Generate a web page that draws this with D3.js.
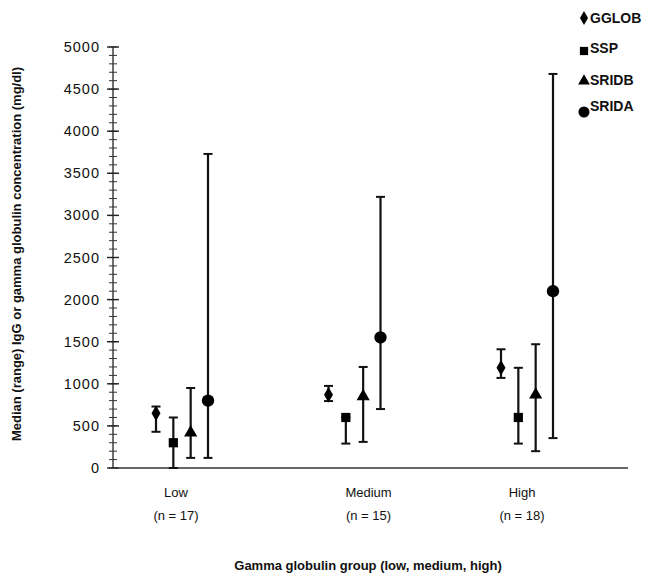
<!DOCTYPE html>
<html><head><meta charset="utf-8">
<script src="https://cdn.jsdelivr.net/npm/d3@7"></script>
<style>body{margin:0;background:#fff}svg{display:block}</style>
</head><body>
<svg id="c" width="648" height="579"></svg>
<script>
const groups = ["Low", "Medium", "High"];
const groupN = ["(n = 17)", "(n = 15)", "(n = 18)"];
const seriesNames = ["GGLOB", "SSP", "SRIDB", "SRIDA"];
const medians = [[650, 870, 1190],[300, 600, 600],[420, 850, 870],[800, 1550, 2100]];
const lows    = [[430, 795, 1070],[0, 290, 290],[120, 310, 200],[120, 700, 355]];
const highs   = [[730, 975, 1410],[600, 600, 1190],[950, 1200, 1470],[3730, 3220, 4680]];
const yTicks = [0,500,1000,1500,2000,2500,3000,3500,4000,4500,5000];

const svg = d3.select("#c");
const y = d3.scaleLinear().domain([0,5000]).range([468,47]);
const xg = d3.scalePoint().domain(groups).range([182, 527]);
const off = d3.scalePoint().domain(seriesNames).range([-26, 26]);
const labelShift = [-6, 14, -5];
const symbols = [d3.symbolDiamond, d3.symbolSquare, d3.symbolTriangle, d3.symbolCircle];
const symSizes = [70, 85, 75, 120];
const font = "Liberation Sans, Arial, sans-serif";

// y axis
const ax = svg.append("g").attr("transform","translate(113,0)");
ax.append("line").attr("y1",y(0)).attr("y2",y(5000)).attr("stroke","#222").attr("stroke-width",1.3);
ax.selectAll(".mn").data(d3.range(0,5001,100)).join("line")
  .attr("x1",-4).attr("x2",4).attr("y1",d=>y(d)).attr("y2",d=>y(d)).attr("stroke","#333").attr("stroke-width",1);
ax.selectAll(".mj").data(yTicks).join("line")
  .attr("x1",-6).attr("x2",6).attr("y1",d=>y(d)).attr("y2",d=>y(d)).attr("stroke","#222").attr("stroke-width",1.4);
ax.selectAll("text").data(yTicks).join("text")
  .attr("x",-13).attr("y",d=>y(d)+5).attr("text-anchor","end").attr("letter-spacing",1)
  .attr("font-family",font).attr("font-size",14.5).attr("fill","#111").text(d=>d);

// x axis
svg.append("line").attr("x1",113).attr("x2",628).attr("y1",y(0)).attr("y2",y(0)).attr("stroke","#333").attr("stroke-width",1.3);

// category labels
svg.selectAll(".cl").data(groups).join("text")
  .attr("x",(d,i)=>xg(d)+labelShift[i]).attr("y",497).attr("text-anchor","middle")
  .attr("font-family",font).attr("font-size",13).attr("fill","#111").text(d=>d);
svg.selectAll(".cn").data(groupN).join("text")
  .attr("x",(d,i)=>xg(groups[i])+labelShift[i]).attr("y",520).attr("text-anchor","middle")
  .attr("font-family",font).attr("font-size",13).attr("fill","#111").text(d=>d);

// error bars and markers
seriesNames.forEach((s,si)=>{
  const data = groups.map((g,gi)=>({g, m:medians[si][gi], lo:lows[si][gi], hi:highs[si][gi]}));
  const gg = svg.append("g");
  const cx = d=>xg(d.g)+off(s);
  gg.selectAll(".v").data(data).join("line")
    .attr("x1",cx).attr("x2",cx).attr("y1",d=>y(d.lo)).attr("y2",d=>y(d.hi)).attr("stroke","#111").attr("stroke-width",2.2);
  gg.selectAll(".ct").data(data).join("line")
    .attr("x1",d=>cx(d)-4.5).attr("x2",d=>cx(d)+4.5).attr("y1",d=>y(d.hi)).attr("y2",d=>y(d.hi)).attr("stroke","#111").attr("stroke-width",2);
  gg.selectAll(".cb").data(data).join("line")
    .attr("x1",d=>cx(d)-4.5).attr("x2",d=>cx(d)+4.5).attr("y1",d=>y(d.lo)).attr("y2",d=>y(d.lo)).attr("stroke","#111").attr("stroke-width",2);
  gg.selectAll("path").data(data).join("path")
    .attr("d",d3.symbol().type(symbols[si]).size(symSizes[si]))
    .attr("transform",d=>`translate(${cx(d)},${y(d.m)})`).attr("fill","#000");
});

// legend
const legMarkY = [18, 51, 81, 112];
const legTextY = [23, 53, 85, 111];
const lg = svg.append("g");
lg.selectAll("path").data(seriesNames).join("path")
  .attr("d",(d,i)=>d3.symbol().type(symbols[i]).size(symSizes[i]*0.8)())
  .attr("transform",(d,i)=>`translate(584,${legMarkY[i]})`).attr("fill","#000");
lg.selectAll("text").data(seriesNames).join("text")
  .attr("x",590).attr("y",(d,i)=>legTextY[i]).attr("font-family",font).attr("font-weight","bold")
  .attr("font-size",14).attr("fill","#111").text(d=>d);

// axis titles
svg.append("text").attr("transform","translate(21,254) rotate(-90)").attr("text-anchor","middle")
  .attr("font-family",font).attr("font-weight","bold").attr("font-size",13).attr("fill","#111")
  .text("Median (range) IgG or gamma globulin concentration (mg/dl)");
svg.append("text").attr("x",368).attr("y",570).attr("text-anchor","middle")
  .attr("font-family",font).attr("font-weight","bold").attr("font-size",13).attr("fill","#111")
  .text("Gamma globulin group (low, medium, high)");
</script>
</body></html>
